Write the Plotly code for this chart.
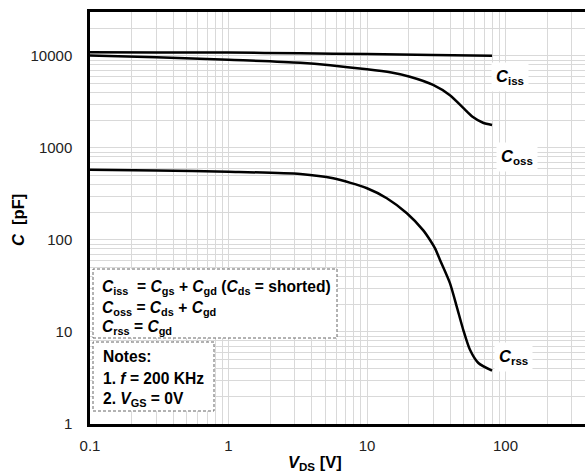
import numpy as np
import plotly.graph_objects as go

# Capacitance vs drain-source voltage (log-log)
vds_ciss = [0.1, 0.3, 1, 3.3, 10, 30, 80]
c_iss = [10970, 10930, 10880, 10700, 10500, 10250, 10050]

vds_coss = [0.1, 0.3, 1, 3.3, 10, 15, 20.4, 30, 39.7, 49.3, 58.2, 68.8, 80]
c_oss = [10100, 9700, 9100, 8450, 7170, 6600, 5950, 4850, 3750, 2750, 2170, 1880, 1780]

vds_crss = [0.1, 0.3, 1, 3.3, 5.7, 10, 13.9, 19.4, 25.4, 28.5, 31, 33.6,
            39.7, 44.4, 49.6, 55.4, 63.7, 80]
c_rss = [580, 570, 552, 521, 468, 365, 284, 195, 128, 100, 81, 61,
         34, 19, 10.5, 6.4, 4.6, 3.8]

x_decades = [0.1, 1, 10, 100]
x_ticktext = ["0.1", "1", "10", "100"]
x_minor = [d * k for d in x_decades for k in range(2, 10)]

y_decades = [1, 10, 100, 1000, 10000]
y_ticktext = ["1", "10", "100", "1000", "10000"]
y_minor = [d * k for d in y_decades for k in range(2, 10)]

FONT = "Liberation Sans, Arial, sans-serif"
GRID = "#d9d9d9"

fig = go.Figure()
for xs, ys in [(vds_ciss, c_iss), (vds_coss, c_oss), (vds_crss, c_rss)]:
    fig.add_trace(go.Scatter(x=xs, y=ys, mode="lines",
                             line=dict(color="black", width=2.5, shape="spline", smoothing=0.7),
                             showlegend=False, hoverinfo="skip"))

fig.update_layout(
    width=585, height=473,
    margin=dict(l=90, r=0, t=12, b=49),
    paper_bgcolor="white", plot_bgcolor="white",
    font=dict(family=FONT, size=15, color="#222"),
)
fig.update_xaxes(type="log", range=[-1, 2.574], tickvals=x_decades, ticktext=x_ticktext,
                 showgrid=True, gridcolor=GRID, gridwidth=1, ticks="",
                 minor=dict(tickvals=x_minor, showgrid=True, gridcolor=GRID, gridwidth=1, ticks=""),
                 showline=True, linecolor="black", linewidth=2.5, mirror=True,
                 zeroline=False, ticklabelstandoff=6)
fig.update_yaxes(type="log", range=[0, 4.478], tickvals=y_decades, ticktext=y_ticktext,
                 showgrid=True, gridcolor=GRID, gridwidth=1, ticks="",
                 minor=dict(tickvals=y_minor, showgrid=True, gridcolor=GRID, gridwidth=1, ticks=""),
                 showline=True, linecolor="black", linewidth=2.5, mirror=False,
                 zeroline=False, ticklabelstandoff=12)

# Plot-area pixel helpers for annotation/box placement
L, T, W, H = 90, 12, 495, 412
def px(xp):
    return (xp - L) / W
def py(yp):
    return (T + H - yp) / H

# Dashed definition boxes
for x0, x1, y0, y1 in [(93, 337, 269, 338), (93, 214, 342, 411)]:
    fig.add_shape(type="rect", xref="paper", yref="paper",
                  x0=px(x0), x1=px(x1), y0=py(y1), y1=py(y0),
                  line=dict(color="#666", width=1, dash="3px,2px"),
                  fillcolor="white", layer="above")

box_lines = [
    ("<b><i>C</i><sub>iss</sub>  = <i>C</i><sub>gs</sub> + <i>C</i><sub>gd</sub> (<i>C</i><sub>ds</sub> = shorted)</b>", 100, 288),
    ("<b><i>C</i><sub>oss</sub> = <i>C</i><sub>ds</sub> + <i>C</i><sub>gd</sub></b>", 100, 308),
    ("<b><i>C</i><sub>rss</sub> = <i>C</i><sub>gd</sub></b>", 100, 327),
    ("<b>Notes:</b>", 101, 356),
    ("<b>1. <i>f</i> = 200 KHz</b>", 101, 378),
    ("<b>2. <i>V</i><sub>GS</sub> = 0V</b>", 101, 399),
]
for txt, xp, yp in box_lines:
    fig.add_annotation(text=txt, xref="paper", yref="paper", x=px(xp), y=py(yp),
                       xanchor="left", yanchor="middle", showarrow=False,
                       font=dict(family=FONT, size=15.6, color="black"))

# Curve labels
for txt, xp, yp in [("<b><i>C</i><sub>iss</sub></b>", 491, 77),
                    ("<b><i>C</i><sub>oss</sub></b>", 496, 157),
                    ("<b><i>C</i><sub>rss</sub></b>", 494, 357)]:
    fig.add_annotation(text=txt, xref="paper", yref="paper", x=px(xp), y=py(yp),
                       xanchor="left", yanchor="middle", showarrow=False,
                       bgcolor="white", borderpad=4,
                       font=dict(family=FONT, size=16.5, color="black"))

# Axis titles
fig.add_annotation(text="<b><i>V</i><sub>DS</sub> [V]</b>", xref="paper", yref="paper",
                   x=px(315), y=py(463), xanchor="center", yanchor="middle", showarrow=False,
                   font=dict(family=FONT, size=16.5, color="black"))
fig.add_annotation(text="<b><i>C</i>  [pF]</b>", xref="paper", yref="paper",
                   x=px(18), y=py(220), xanchor="center", yanchor="middle", showarrow=False,
                   textangle=-90, font=dict(family=FONT, size=16.5, color="black"))

fig.write_html("out.html")
